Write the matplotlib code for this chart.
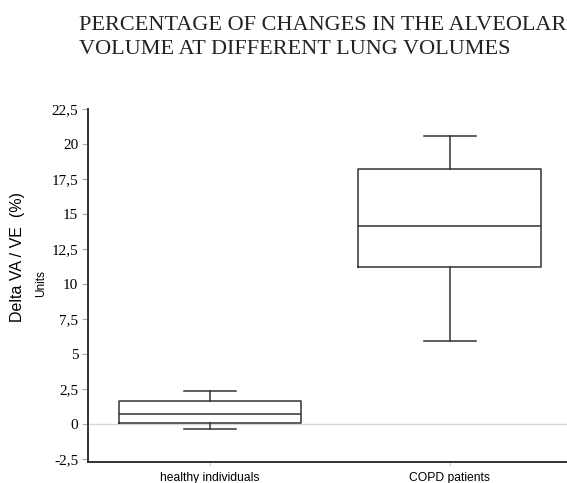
import matplotlib
matplotlib.use("Agg")
import matplotlib.pyplot as plt

categories = ["healthy individuals", "COPD patients"]
whisker_low = [-0.33, 5.96]
q1 = [0.12, 11.2]
median = [0.72, 14.13]
q3 = [1.66, 18.2]
whisker_high = [2.36, 20.56]
yticks = [-2.5, 0, 2.5, 5, 7.5, 10, 12.5, 15, 17.5, 20, 22.5]
ytick_labels = ["-2,5", "0", "2,5", "5", "7,5", "10", "12,5", "15", "17,5", "20", "22,5"]
title_lines = ["PERCENTAGE OF CHANGES IN THE ALVEOLAR", "VOLUME AT DIFFERENT LUNG VOLUMES"]

fig = plt.figure(figsize=(5.67, 4.83), dpi=100)
ax = fig.add_axes([88/567, 1-462/483, 1-88/567, (462-108.5)/483])

stats = []
for i, c in enumerate(categories):
    stats.append(dict(label=c, whislo=whisker_low[i], q1=q1[i], med=median[i],
                      q3=q3[i], whishi=whisker_high[i], fliers=[]))

ax.axhline(0, color="#d8d8d8", lw=1.0, zorder=0)
lc = "#333333"
ax.bxp(stats, positions=[0, 1], widths=0.76, capwidths=0.217, showfliers=False,
       boxprops=dict(color=lc, lw=1.1),
       whiskerprops=dict(color=lc, lw=1.1),
       capprops=dict(color=lc, lw=1.1),
       medianprops=dict(color=lc, lw=1.1))

ax.set_xlim(-0.508, 1.49)
ax.set_ylim(-2.7, 22.55)
ax.set_yticks(yticks)
ax.set_yticklabels(ytick_labels, fontfamily="Liberation Serif", fontsize=11)
ax.set_xticks([0, 1])
ax.set_xticklabels(categories, fontfamily="Liberation Sans", fontsize=8.7)
ax.tick_params(axis="y", length=4, color="#aaaaaa", width=0.8, pad=3)
ax.tick_params(axis="x", length=3, color="#cccccc", width=0.8, pad=4)
for s in ["top", "right"]:
    ax.spines[s].set_visible(False)
for s in ["left", "bottom"]:
    ax.spines[s].set_color(lc)
    ax.spines[s].set_linewidth(1.4)

fig.text(18/567, 1-257/483, "Delta VA / VE  (%)", rotation=90, ha="center", va="center",
         fontfamily="Liberation Sans", fontsize=11.5)
fig.text(41/567, 1-284/483, "Units", rotation=90, ha="center", va="center",
         fontfamily="Liberation Sans", fontsize=8.5)

for k, (line, base) in enumerate(zip(title_lines, [30, 54])):
    fig.text(79/567, 1-base/483, line, ha="left", va="baseline",
             fontfamily="Liberation Serif", fontsize=16.0, color="#222222")

fig.savefig("out.png", dpi=100)
